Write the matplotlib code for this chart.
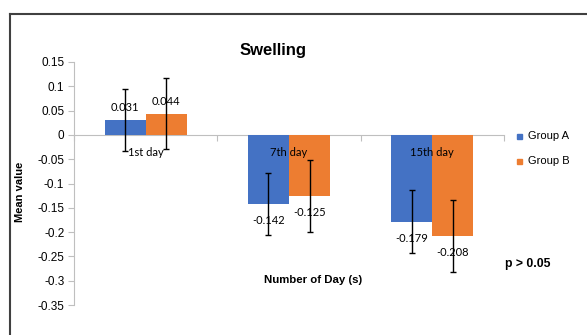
import numpy as np
import matplotlib
matplotlib.use("Agg")
import matplotlib.pyplot as plt
from matplotlib.lines import Line2D

matplotlib.rcParams['axes.unicode_minus'] = False
matplotlib.rcParams['font.family'] = ['Liberation Sans', 'DejaVu Sans']

# data
days = ["1st day", "7th day", "15th day"]
group_a = [0.031, -0.142, -0.179]
group_b = [0.044, -0.125, -0.208]
err_a = [0.064, 0.064, 0.065]
err_b = [0.074, 0.074, 0.075]
yticks = [0.15, 0.1, 0.05, 0, -0.05, -0.1, -0.15, -0.2, -0.25, -0.3, -0.35]
ytick_labels = ["0.15", "0.1", "0.05", "0", "-0.05", "-0.1", "-0.15", "-0.2", "-0.25", "-0.3", "-0.35"]

blue = "#4472C4"
orange = "#ED7D31"
gray = "#BFBFBF"

W, H = 587, 335
fig = plt.figure(figsize=(W / 100, H / 100), dpi=100)
ax = fig.add_axes([74 / W, 1 - 305 / H, (504 - 74) / W, (305 - 62) / H])

x = np.arange(len(days))
bw = 0.287
ax.bar(x - bw / 2, group_a, bw, color=blue, label="Group A", zorder=2)
ax.bar(x + bw / 2, group_b, bw, color=orange, label="Group B", zorder=2)
ax.errorbar(x - bw / 2, group_a, yerr=err_a, fmt="none", ecolor="black",
            elinewidth=1, capsize=2.5, capthick=1, zorder=3)
ax.errorbar(x + bw / 2, group_b, yerr=err_b, fmt="none", ecolor="black",
            elinewidth=1, capsize=2.5, capthick=1, zorder=3)

# value labels
for xs, vals in ((x - bw / 2, group_a), (x + bw / 2, group_b)):
    for xi, v in zip(xs, vals):
        off = 12 if v > 0 else -17
        ax.annotate(f"{v:.3f}", xy=(xi, v), xytext=(0, off), textcoords="offset pixels",
                    ha="center", va="center", fontsize=8, family="Lato", zorder=4)

# category labels sit just under the zero line
for xi, d in zip(x, days):
    ax.annotate(d, xy=(xi, 0), xytext=(0, -18), textcoords="offset pixels",
                ha="center", va="center", fontsize=8, family="Lato", zorder=4)

ax.set_xlim(-0.5, 2.5)
ax.set_ylim(-0.35, 0.15)
ax.set_yticks(yticks)
ax.set_yticklabels(ytick_labels, fontsize=8.5)
ax.set_xticks([-0.5, 0.5, 1.5, 2.5])
ax.set_xticklabels([])

for s in ("top", "right"):
    ax.spines[s].set_visible(False)
ax.spines["left"].set_color(gray)
ax.spines["bottom"].set_color(gray)
ax.spines["bottom"].set_position(("data", 0))
ax.spines["bottom"].set_zorder(1)
ax.tick_params(axis="y", color=gray, length=4, width=0.8, pad=3)
ax.tick_params(axis="x", color=gray, length=4, width=0.8)

# titles and labels
fig.text(273 / W, 1 - 50 / H, "Swelling", ha="center", va="center",
         fontsize=12, fontweight="bold")
fig.text(20 / W, 1 - 192 / H, "Mean value", ha="center", va="center",
         rotation=90, fontsize=8, fontweight="bold")
fig.text(313 / W, 1 - 280 / H, "Number of Day (s)", ha="center", va="center",
         fontsize=8.2, fontweight="bold")
fig.text(505 / W, 1 - 264 / H, "p > 0.05", ha="left", va="center",
         fontsize=8.8, fontweight="bold")

# legend
for i, (lab, col) in enumerate((("Group A", blue), ("Group B", orange))):
    yy = 1 - (136 + 25 * i) / H
    fig.patches.append(plt.Rectangle((517 / W, yy - 2.5 / H), 5 / W, 5 / H,
                                     transform=fig.transFigure, color=col))
    fig.text(528 / W, yy, lab, ha="left", va="center", fontsize=8)

# outer frame (left and top edges)
fx, fy = 10 / W, 1 - 14 / H
fig.add_artist(Line2D([fx, fx], [0, fy], transform=fig.transFigure, color="#404040", lw=1.5))
fig.add_artist(Line2D([fx, 1], [fy, fy], transform=fig.transFigure, color="#404040", lw=1.5))

fig.savefig("out.png", dpi=100)
